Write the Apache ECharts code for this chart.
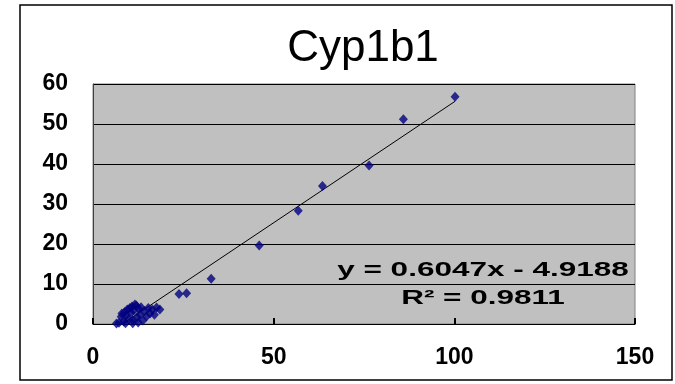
<!DOCTYPE html>
<html>
<head>
<meta charset="utf-8">
<script src="https://cdn.jsdelivr.net/npm/echarts@6/dist/echarts.min.js"></script>
<style>html,body{margin:0;padding:0;background:#fff;}#c{width:675px;height:384px;}</style>
</head>
<body>
<div id="c"></div>
<script>
// Data
var xValues = [100.2, 85.9, 76.4, 63.5, 56.8, 46.0, 32.7, 25.9, 23.8,
  6.5, 7.2, 7.8, 8.0, 8.5, 8.8, 9.2, 9.5, 9.8, 10.2, 10.5, 10.8, 11.0, 11.3, 11.6, 12.0,
  12.2, 12.6, 13.0, 13.3, 13.8, 14.2, 14.8, 15.3, 15.8, 16.4, 17.0, 17.6, 18.5, 11.0, 9.0, 12.5];
var yValues = [56.8, 51.2, 39.6, 34.5, 28.3, 19.6, 11.3, 7.7, 7.5,
  0.1, 0.3, 1.8, 2.6, 0.6, 3.0, 2.2, 3.6, 1.2, 4.0, 2.8, 4.4, 0.2, 3.4, 4.9, 4.6,
  1.6, 3.8, 2.4, 4.2, 0.9, 3.2, 1.9, 4.0, 2.6, 3.6, 2.3, 4.1, 3.6, 1.0, 0.2, 0.4];
var trendSlope = [0.6047];
var trendIntercept = [-4.9188];
var rSquared = ['0.9811'];
var titleText = 'Cyp1b1';
var xTicks = [0, 50, 100, 150];
var yTicks = [0, 10, 20, 30, 40, 50, 60];

var points = xValues.map(function (x, i) { return [x, yValues[i]]; });
var xMin = Math.min.apply(null, xValues), xMax = Math.max.apply(null, xValues);
var trend = [xMin, xMax].map(function (x) { return [x, trendSlope[0] * x + trendIntercept[0]]; });
var eqText = 'y = ' + trendSlope[0].toFixed(4) + 'x - ' + Math.abs(trendIntercept[0]).toFixed(4);

var labelFont = { color: '#000', fontFamily: 'Liberation Sans', fontWeight: 'bold', fontSize: 23 };

var chart = echarts.init(document.getElementById('c'));
chart.setOption({
  animation: false,
  backgroundColor: '#ffffff',
  title: {
    text: titleText, left: 358, top: 22, textAlign: 'center',
    textStyle: { fontFamily: 'Liberation Sans', fontSize: 44, fontWeight: 'normal', color: '#000' }
  },
  grid: {
    left: 93, right: 40, top: 84, bottom: 60,
    show: true, backgroundColor: '#C0C0C0', borderColor: '#808080', borderWidth: 1
  },
  xAxis: {
    type: 'value', min: xTicks[0], max: xTicks[xTicks.length - 1], interval: xTicks[1] - xTicks[0],
    axisLine: { lineStyle: { color: '#000', width: 1 } },
    axisTick: { inside: true, length: 6, lineStyle: { color: '#000', width: 2 } },
    splitLine: { show: false },
    axisLabel: Object.assign({ margin: 22 }, labelFont)
  },
  yAxis: {
    type: 'value', min: yTicks[0], max: yTicks[yTicks.length - 1], interval: yTicks[1] - yTicks[0],
    axisLine: { show: true, lineStyle: { color: '#404040', width: 1 } },
    axisTick: { show: false },
    splitLine: { lineStyle: { color: '#000', width: 1 } },
    axisLabel: Object.assign({ margin: 25 }, labelFont)
  },
  series: [
    {
      type: 'line', data: trend, symbol: 'none', clip: true,
      lineStyle: { color: '#000', width: 1 }, z: 3
    },
    {
      type: 'scatter', data: points, symbol: 'diamond', symbolSize: [9, 10],
      itemStyle: { color: '#000080' }, z: 4
    }
  ],
  graphic: [
    { type: 'rect', shape: { x: 20, y: 5, width: 652, height: 375 }, style: { fill: 'none', stroke: '#000', lineWidth: 1.5 }, silent: true, z: 100 },
    { type: 'text', x: 483, y: 270, scaleX: 1.5, style: { text: eqText, fontFamily: 'Liberation Sans', fontWeight: 'bold', fontSize: 21, fill: '#000', align: 'center', verticalAlign: 'middle' }, z: 100 },
    { type: 'text', x: 483, y: 298, scaleX: 1.5, style: { text: 'R\u00B2 = ' + rSquared[0], fontFamily: 'Liberation Sans', fontWeight: 'bold', fontSize: 21, fill: '#000', align: 'center', verticalAlign: 'middle' }, z: 100 }
  ]
});
</script>
</body>
</html>
